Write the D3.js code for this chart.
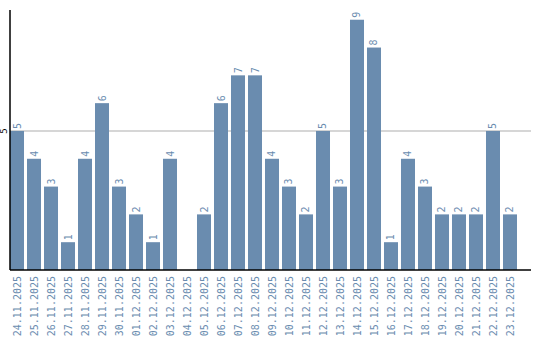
<!DOCTYPE html>
<html>
<head>
<meta charset="utf-8">
<script src="https://cdn.jsdelivr.net/npm/d3@7"></script>
<style>
  body { margin: 0; background: #fff; }
  svg text { font-family: "DejaVu Sans Mono", monospace; }
</style>
</head>
<body>
<svg id="chart" width="540" height="340"></svg>
<script>
// Données
const dates = ["24.11.2025","25.11.2025","26.11.2025","27.11.2025","28.11.2025","29.11.2025","30.11.2025",
  "01.12.2025","02.12.2025","03.12.2025","04.12.2025","05.12.2025","06.12.2025","07.12.2025","08.12.2025",
  "09.12.2025","10.12.2025","11.12.2025","12.12.2025","13.12.2025","14.12.2025","15.12.2025","16.12.2025",
  "17.12.2025","18.12.2025","19.12.2025","20.12.2025","21.12.2025","22.12.2025","23.12.2025"];
const counts = [5,4,3,1,4,6,3,2,1,4,0,2,6,7,7,4,3,2,5,3,9,8,1,4,3,2,2,2,5,2];
const yTicks = [5];

const rows = dates.map((d, i) => ({ date: d, count: counts[i] }));

const svg = d3.select("#chart");
const color = "#6a8caf";
const x0 = 10, baseY = 270;

const x = d3.scaleBand().domain(dates).range([x0, 517]).paddingInner(0.176).paddingOuter(0);
const y = d3.scaleLinear().domain([0, 9.35]).range([baseY, 10]);

// Grille
svg.selectAll("line.grid").data(yTicks).enter().append("line")
  .attr("x1", x0).attr("x2", 531)
  .attr("y1", d => y(d)).attr("y2", d => y(d))
  .attr("stroke", "#c8c8c8").attr("stroke-width", 1.5);

// Barres
svg.selectAll("rect").data(rows).enter().append("rect")
  .attr("x", d => x(d.date))
  .attr("y", d => y(d.count))
  .attr("width", x.bandwidth())
  .attr("height", d => baseY - y(d.count))
  .attr("fill", color);

// Étiquettes des valeurs
svg.selectAll("text.val").data(rows.filter(d => d.count > 0)).enter().append("text")
  .attr("class", "val")
  .attr("transform", d => `translate(${x(d.date) + x.bandwidth() / 2 + 3.5},${y(d.count) - 2}) rotate(-90)`)
  .attr("font-size", 10).attr("fill", color)
  .text(d => d.count);

// Axes
svg.append("line").attr("x1", x0).attr("x2", x0).attr("y1", 10).attr("y2", baseY)
  .attr("stroke", "#000").attr("stroke-width", 1.5);
svg.append("line").attr("x1", x0).attr("x2", 531).attr("y1", baseY).attr("y2", baseY)
  .attr("stroke", "#000").attr("stroke-width", 1.5);

svg.selectAll("text.ytick").data(yTicks).enter().append("text")
  .attr("transform", d => `translate(7,${y(d)}) rotate(-90)`)
  .attr("text-anchor", "middle").attr("font-size", 9).attr("fill", "#000")
  .text(d => d);

svg.selectAll("text.xtick").data(dates).enter().append("text")
  .attr("transform", d => `translate(${x(d) + x.bandwidth() / 2 + 4},${baseY + 6}) rotate(-90)`)
  .attr("text-anchor", "end").attr("font-size", 10).attr("fill", color)
  .text(d => d);
</script>
</body>
</html>
